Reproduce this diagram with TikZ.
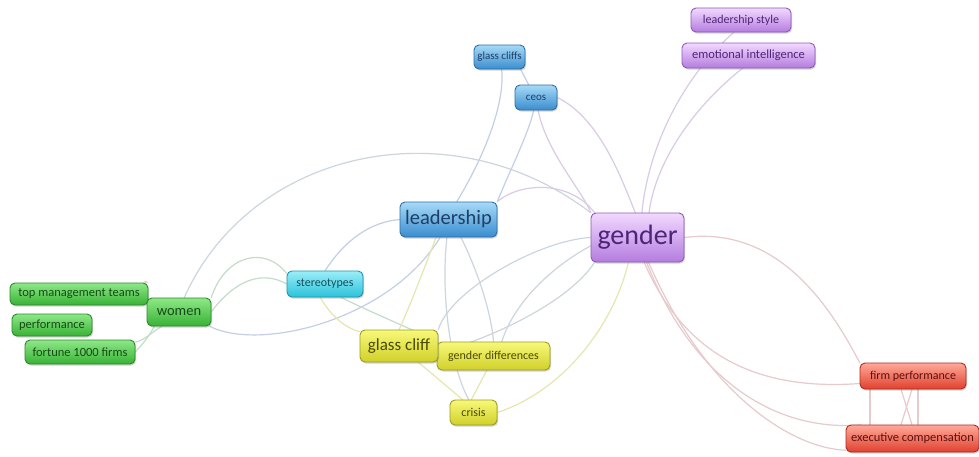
\documentclass[tikz,border=0pt]{standalone}
\usepackage{fontspec}
\setmainfont{Carlito}
\usetikzlibrary{shadows}

% node palettes: top, bottom, border, text
\definecolor{blueT}{HTML}{A6DAF7}
\definecolor{blueD}{HTML}{3A8DCF}
\definecolor{blueB}{HTML}{2C6FA6}
\definecolor{blueX}{HTML}{1F3F66}
\definecolor{purT}{HTML}{F2D9FF}
\definecolor{purD}{HTML}{B47CDF}
\definecolor{purB}{HTML}{8C5BB3}
\definecolor{purX}{HTML}{4E2477}
\definecolor{grnT}{HTML}{8EE887}
\definecolor{grnD}{HTML}{38B236}
\definecolor{grnB}{HTML}{2A8A2A}
\definecolor{grnX}{HTML}{154A15}
\definecolor{cyaT}{HTML}{9AEEF8}
\definecolor{cyaD}{HTML}{2CC2DA}
\definecolor{cyaB}{HTML}{1E94AA}
\definecolor{cyaX}{HTML}{14505C}
\definecolor{yelT}{HTML}{F8F87A}
\definecolor{yelD}{HTML}{D0D02A}
\definecolor{yelB}{HTML}{9C9C1E}
\definecolor{yelX}{HTML}{4A4A05}
\definecolor{redT}{HTML}{FFA999}
\definecolor{redD}{HTML}{E0412E}
\definecolor{redB}{HTML}{B02A1E}
\definecolor{redX}{HTML}{5C1010}
% connector tints
\definecolor{eBlue}{HTML}{C3CFE6}
\definecolor{ePur}{HTML}{D9CBE4}
\definecolor{eGrn}{HTML}{C4DCCA}
\definecolor{eYel}{HTML}{E6E6B0}
\definecolor{eRed}{HTML}{E6CACC}
\definecolor{eGry}{HTML}{CDD5DD}

\tikzset{
  kw/.style={draw, rounded corners=5pt, line width=0.9pt, inner sep=0pt,
    drop shadow={shadow xshift=1pt, shadow yshift=-1.5pt, opacity=0.35}},
  bluebox/.style={kw, draw=blueB, top color=blueT, bottom color=blueD, text=blueX},
  purbox/.style={kw, draw=purB, top color=purT, bottom color=purD, text=purX},
  grnbox/.style={kw, draw=grnB, top color=grnT, bottom color=grnD, text=grnX},
  cyabox/.style={kw, draw=cyaB, top color=cyaT, bottom color=cyaD, text=cyaX},
  yelbox/.style={kw, draw=yelB, top color=yelT, bottom color=yelD, text=yelX},
  redbox/.style={kw, draw=redB, top color=redT, bottom color=redD, text=redX},
  sz/.style 2 args={minimum width=#1pt, minimum height=#2pt},
  fs/.style={font=\fontsize{#1}{#1}\selectfont},
  link/.style={line width=1.2pt, draw=#1},
}

\begin{document}
\begin{tikzpicture}[x=1pt, y=-1pt]
\useasboundingbox (0,0) rectangle (979,456);
\fill[white] (0,0) rectangle (979,456);

% ---- box centres
\path
  (499.5,57)   coordinate (p-gcs)
  (536,97.5)   coordinate (p-ceos)
  (741,20)     coordinate (p-lst)
  (748.5,55.5) coordinate (p-emo)
  (448.5,219.5) coordinate (p-lead)
  (637.5,237.5) coordinate (p-gen)
  (325,284)    coordinate (p-ste)
  (179,312)    coordinate (p-wom)
  (79,294)     coordinate (p-tmt)
  (52,325)     coordinate (p-perf)
  (80,352)     coordinate (p-fort)
  (399,346)    coordinate (p-gcl)
  (493.5,356)  coordinate (p-gdf)
  (473.5,412.5) coordinate (p-cri)
  (913,376)    coordinate (p-fpf)
  (912.5,438.5) coordinate (p-exe);

% ---- invisible frames, so the connectors can end on the box borders
\path[every node/.style={inner sep=0pt, draw=none}]
  node[sz={51}{24}]  (gcs)  at (p-gcs)  {}
  node[sz={42}{25}]  (ceos) at (p-ceos) {}
  node[sz={100}{24}] (lst)  at (p-lst)  {}
  node[sz={133}{25}] (emo)  at (p-emo)  {}
  node[sz={97}{35}]  (lead) at (p-lead) {}
  node[sz={93}{49}]  (gen)  at (p-gen)  {}
  node[sz={76}{26}]  (ste)  at (p-ste)  {}
  node[sz={64}{28}]  (wom)  at (p-wom)  {}
  node[sz={138}{22}] (tmt)  at (p-tmt)  {}
  node[sz={80}{22}]  (perf) at (p-perf) {}
  node[sz={110}{24}] (fort) at (p-fort) {}
  node[sz={78}{32}]  (gcl)  at (p-gcl)  {}
  node[sz={113}{28}] (gdf)  at (p-gdf)  {}
  node[sz={47}{25}]  (cri)  at (p-cri)  {}
  node[sz={106}{26}] (fpf)  at (p-fpf)  {}
  node[sz={133}{27}] (exe)  at (p-exe)  {};

% ---- connectors
% women cluster
\draw[link=eGry] (wom.70) .. controls (250,150) and (450,105) .. (gen.north west);
\draw[link=eGrn] (wom.north east) .. controls (225,255) and (265,245) .. (ste.165);
\draw[link=eGrn] (wom.east) .. controls (235,280) and (262,270) .. (ste.west);
\draw[link=eBlue] (wom.-25) .. controls (260,352) and (390,320) .. (lead.-115);
\draw[link=eRed] (tmt.north east) .. controls (140,278) and (150,285) .. (wom.north west);
\draw[link=eGrn] (fort.east) .. controls (142,345) and (150,335) .. (wom.-150);
\draw[link=eGrn] (fort.10) .. controls (145,340) and (152,332) .. (wom.-140);
% stereotypes
\draw[link=eBlue] (ste.north) .. controls (345,240) and (370,222) .. (lead.west);
\draw[link=eYel] (ste.-110) .. controls (330,315) and (345,328) .. (gcl.160);
\draw[link=eGrn] (ste.-40) .. controls (370,312) and (410,328) .. (gdf.north west);
% leadership
\draw[link=eBlue] (lead.65) .. controls (488,150) and (505,100) .. (gcs.-80);
\draw[link=eBlue] (lead.north east) .. controls (510,170) and (528,135) .. (ceos.-100);
\draw[link=ePur] (lead.north east) .. controls (520,182) and (570,180) .. (gen.150);
\draw[link=eBlue] (gcs.-30) -- (ceos.120);
\draw[link=eYel] (lead.-125) .. controls (420,280) and (408,310) .. (gcl.north);
\draw[link=eGry] (lead.-95) .. controls (440,300) and (452,370) .. (cri.110);
\draw[link=eGry] (lead.-55) .. controls (482,280) and (492,320) .. (gdf.north);
% gender
\draw[link=ePur] (ceos.east) .. controls (600,118) and (622,180) .. (gen.95);
\draw[link=ePur] (ceos.-80) .. controls (545,150) and (585,195) .. (gen.north west);
\draw[link=ePur] (lst.-120) .. controls (680,80) and (648,150) .. (gen.80);
\draw[link=ePur] (emo.-115) .. controls (690,110) and (655,165) .. (gen.65);
\draw[link=eGry] (gen.west) .. controls (540,240) and (450,290) .. (gcl.north east);
\draw[link=eGry] (gen.-150) .. controls (570,300) and (500,335) .. (gcl.-10);
\draw[link=eGry] (gen.-170) .. controls (555,265) and (515,300) .. (gdf.60);
\draw[link=eYel] (gen.-110) .. controls (612,330) and (560,392) .. (cri.east);
\draw[link=eRed] (gen.east) .. controls (780,225) and (832,310) .. (fpf.north west);
\draw[link=eRed] (gen.-75) .. controls (680,345) and (745,392) .. (fpf.-172);
\draw[link=eRed] (gen.-70) .. controls (695,385) and (780,432) .. (exe.165);
\draw[link=eRed] (gen.-66) .. controls (705,392) and (790,448) .. (exe.-170);
% small crisis links
\draw[link=eYel] (gcl.-40) -- (cri.130);
\draw[link=eYel] (gdf.-115) -- (cri.100);
% firm performance / executive compensation
\draw[link=eRed] ([xshift=-43pt]fpf.south) -- ([xshift=-43pt]fpf.south |- exe.north);
\draw[link=eRed] ([xshift=5pt]fpf.south) -- ([xshift=5pt]fpf.south |- exe.north);
\draw[link=eRed] ([xshift=-12pt]fpf.south) -- ([xshift=-1pt]fpf.south |- exe.north);
\draw[link=eRed] ([xshift=-1pt]fpf.south) -- ([xshift=-12pt]fpf.south |- exe.north);

% ---- boxes
\node[bluebox, sz={51}{24}, fs=11]   at (p-gcs)  {glass cliffs};
\node[bluebox, sz={42}{25}, fs=11]   at (p-ceos) {ceos};
\node[purbox,  sz={100}{24}, fs=12]  at (p-lst)  {leadership style};
\node[purbox,  sz={133}{25}, fs=12.5] at (p-emo) {emotional intelligence};
\node[bluebox, sz={97}{35}, fs=20.5] at (p-lead) {leadership};
\node[purbox,  sz={93}{49}, fs=28]   at (p-gen)  {gender};
\node[cyabox,  sz={76}{26}, fs=12]   at (p-ste)  {stereotypes};
\node[grnbox,  sz={138}{22}, fs=12.5] at (p-tmt) {top management teams};
\node[grnbox,  sz={80}{22}, fs=12.5] at (p-perf) {performance};
\node[grnbox,  sz={110}{24}, fs=12.5] at (p-fort) {fortune 1000 firms};
\node[grnbox,  sz={64}{28}, fs=14.5] at (p-wom)  {women};
\node[yelbox,  sz={113}{28}, fs=12]  at (p-gdf)  {gender differences};
\node[yelbox,  sz={78}{32}, fs=17]   at (p-gcl)  {glass cliff};
\node[yelbox,  sz={47}{25}, fs=12]   at (p-cri)  {crisis};
\node[redbox,  sz={106}{26}, fs=12]  at (p-fpf)  {firm performance};
\node[redbox,  sz={133}{27}, fs=12.5] at (p-exe) {executive compensation};
\end{tikzpicture}
\end{document}
